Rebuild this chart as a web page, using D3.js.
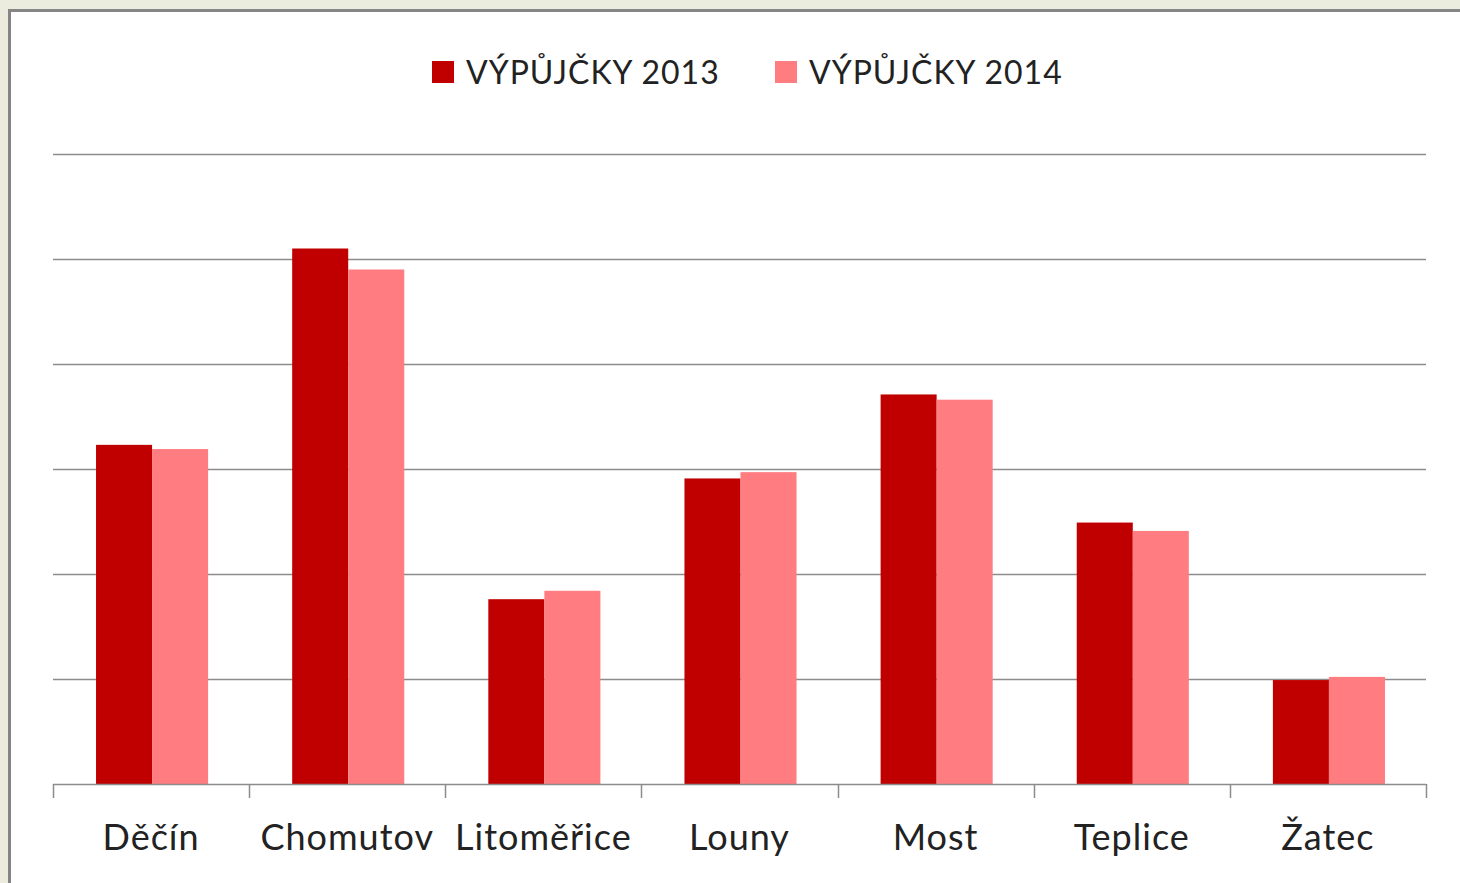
<!DOCTYPE html>
<html>
<head>
<meta charset="utf-8">
<script src="https://cdn.jsdelivr.net/npm/d3@7"></script>
<style>
  body { margin: 0; background: #ebebde; }
  #chart { width: 1460px; height: 883px; }
  text { font-family: Lato, "Open Sans", sans-serif; fill: #222; }
</style>
</head>
<body>
<div id="chart"></div>
<script>
// data (gridline step = 100)
var cities = ["Děčín", "Chomutov", "Litoměřice", "Louny", "Most", "Teplice", "Žatec"];
var loans2013 = [323, 510, 176, 291, 371, 249, 99];
var loans2014 = [319, 490, 184, 297, 366, 241, 102];
var seriesNames = ["VÝPŮJČKY 2013", "VÝPŮJČKY 2014"];
var seriesColors = ["#c00000", "#ff7c80"];
var yTicks = [0, 100, 200, 300, 400, 500, 600];

var svgWidth = 1460;
var svgHeight = 883;

var margin = { top: 154, right: 34, bottom: 99, left: 53 };
var width = svgWidth - margin.left - margin.right;
var height = svgHeight - margin.top - margin.bottom;

var svg = d3.select("#chart")
  .append("svg")
  .attr("width", svgWidth)
  .attr("height", svgHeight);

// white panel with gray frame
svg.append("rect")
  .attr("x", 9.5)
  .attr("y", 10.5)
  .attr("width", svgWidth)
  .attr("height", svgHeight)
  .attr("fill", "#fff")
  .attr("stroke", "#858585")
  .attr("stroke-width", 3);

var chartGroup = svg.append("g")
  .attr("transform", `translate(${margin.left}, ${margin.top})`);

var x0 = d3.scaleBand()
  .domain(cities)
  .range([0, width])
  .paddingInner(0)
  .paddingOuter(0);

var x1 = d3.scaleBand()
  .domain(seriesNames)
  .range([x0.bandwidth() * 0.2143 + 1, x0.bandwidth() * 0.7857 + 1]);

var y = d3.scaleLinear()
  .domain([0, 600])
  .range([height, 0]);

// gridlines
chartGroup.selectAll(".grid")
  .data(yTicks.slice(1))
  .enter()
  .append("line")
  .attr("x1", 0)
  .attr("x2", width)
  .attr("y1", d => Math.round(y(d)) + 0.5)
  .attr("y2", d => Math.round(y(d)) + 0.5)
  .attr("stroke", "#8c8c8c")
  .attr("stroke-width", 1.5);

// bars
var rows = cities.map((c, i) => ({ city: c, vals: [loans2013[i], loans2014[i]] }));

var groups = chartGroup.selectAll(".city")
  .data(rows)
  .enter()
  .append("g")
  .attr("transform", d => `translate(${x0(d.city)}, 0)`);

groups.selectAll("rect")
  .data(d => d.vals.map((v, j) => ({ name: seriesNames[j], value: v, color: seriesColors[j] })))
  .enter()
  .append("rect")
  .attr("x", d => x1(d.name))
  .attr("width", x1.bandwidth())
  .attr("y", d => y(d.value))
  .attr("height", d => height - y(d.value))
  .attr("fill", d => d.color);

// x axis with category separators
var xAxis = chartGroup.append("g")
  .attr("transform", `translate(0, ${height})`);

xAxis.append("line")
  .attr("x1", 0)
  .attr("x2", width)
  .attr("y1", 0.5)
  .attr("y2", 0.5)
  .attr("stroke", "#8c8c8c")
  .attr("stroke-width", 1.5);

var tickPos = cities.map(c => x0(c)).concat([width]);
xAxis.selectAll(".tick")
  .data(tickPos)
  .enter()
  .append("line")
  .attr("x1", d => Math.round(d) + 0.5)
  .attr("x2", d => Math.round(d) + 0.5)
  .attr("y1", 0)
  .attr("y2", 14)
  .attr("stroke", "#8c8c8c")
  .attr("stroke-width", 1.5);

xAxis.selectAll(".label")
  .data(cities)
  .enter()
  .append("text")
  .attr("x", d => x0(d) + x0.bandwidth() / 2)
  .attr("y", 66)
  .attr("text-anchor", "middle")
  .attr("font-size", "36px")
  .attr("letter-spacing", "1px")
  .text(d => d);

// legend
var legendX = [432, 775];
var legend = svg.selectAll(".legend")
  .data(seriesNames)
  .enter()
  .append("g")
  .attr("transform", (d, i) => `translate(${legendX[i]}, 61)`);

legend.append("rect")
  .attr("width", 22)
  .attr("height", 22)
  .attr("fill", (d, i) => seriesColors[i]);

legend.append("text")
  .attr("x", 34)
  .attr("y", 23)
  .attr("font-size", "32px")
  .attr("letter-spacing", "1px")
  .text(d => d);
</script>
</body>
</html>
